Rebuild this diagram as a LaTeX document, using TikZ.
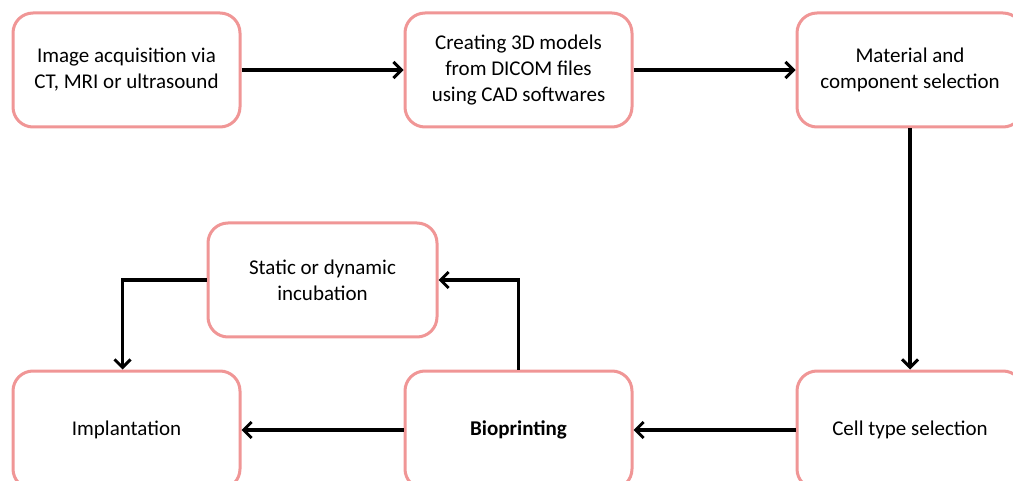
\documentclass[tikz,border=0pt]{standalone}
\usepackage{fontspec}
\setmainfont{Carlito}
\usetikzlibrary{arrows.meta}
\definecolor{boxpink}{RGB}{240,150,150}
\begin{document}
\begin{tikzpicture}[x=1pt,y=-1pt,
  stepbox/.style={draw=boxpink,line width=3pt,rounded corners=20pt,fill=white,
    minimum width=227pt,minimum height=114pt,align=center,inner sep=0pt,
    font=\fontsize{21}{26}\selectfont},
  arr/.style={line width=3.2pt,-{Straight Barb[length=8pt,width=16pt,line width=3pt]}}]
\useasboundingbox (0,0) rectangle (1013,481);
\clip (0,0) rectangle (1013,481);
\node[stepbox] (b1) at (126.5,70) {Image acquisition via\\CT, MRI or ultrasound};
\node[stepbox] (b2) at (518.5,70) {Creating 3D models\\from DICOM files\\using CAD softwares};
\node[stepbox,minimum width=226pt] (b3) at (910,70) {Material and\\component selection};
\node[stepbox,minimum width=229pt] (stat) at (322.5,280) {Static or dynamic\\incubation};
\node[stepbox,minimum height=118pt] (impl) at (126.5,430) {Implantation};
\node[stepbox,minimum height=118pt,font=\fontsize{21}{26}\selectfont\bfseries] (bio) at (518.5,430) {Bioprinting};
\node[stepbox,minimum width=226pt,minimum height=118pt] (cell) at (910,430) {Cell type selection};
\draw[arr] (b1.east) -- (b2.west);
\draw[arr] (b2.east) -- (b3.west);
\draw[arr] (b3.south) -- (cell.north);
\draw[arr] (cell.west) -- (bio.east);
\draw[arr] (bio.west) -- (impl.east);
\draw[arr] (bio.north) |- (stat.east);
\draw[arr] (stat.west) -| ([xshift=-4pt]impl.north);
\end{tikzpicture}
\end{document}
